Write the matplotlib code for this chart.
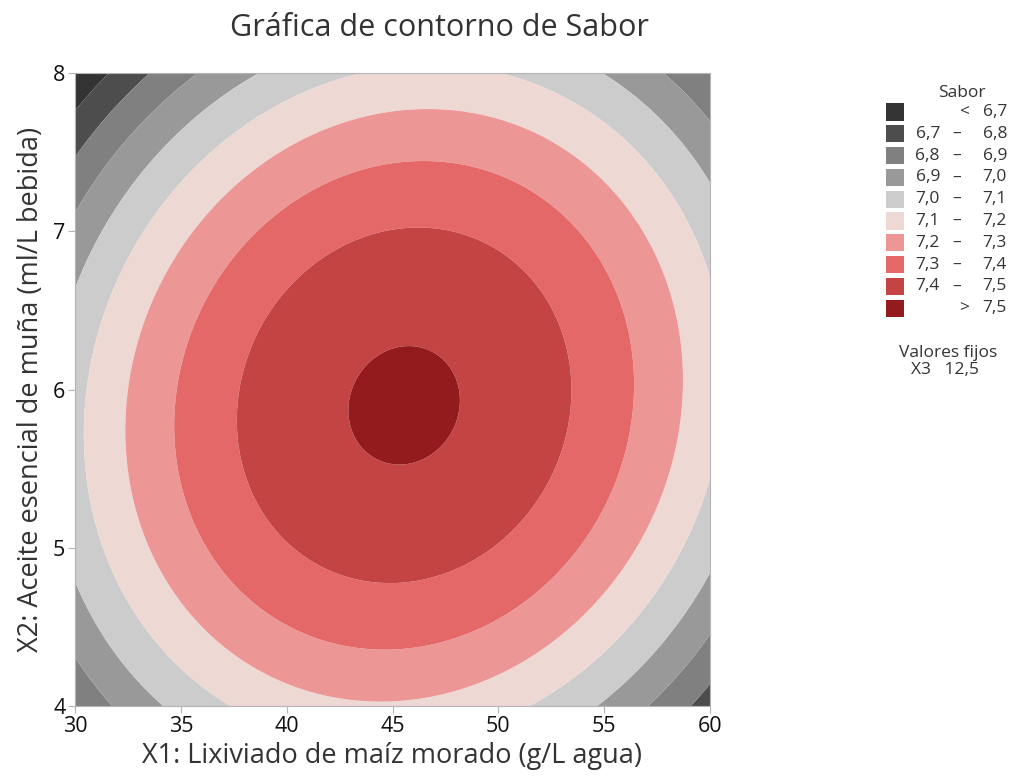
import numpy as np
import matplotlib
matplotlib.use("Agg")
import matplotlib.pyplot as plt
from matplotlib.patches import Rectangle

plt.rcParams["font.family"] = ["Open Sans", "DejaVu Sans"]

# fitted surface: S = s0 - a*dx^2 - b*dy^2 + c*dx*dy
x_center = 45.55
y_center = 5.90
s_max = 7.5125
a_x = 0.001814
b_y = 0.0898
c_xy = 0.00216
x3_fixed = "12,5"

x_range = (30, 60)
y_range = (4, 8)
x_ticks = [30, 35, 40, 45, 50, 55, 60]
y_ticks = [4, 5, 6, 7, 8]

levels = [6.7, 6.8, 6.9, 7.0, 7.1, 7.2, 7.3, 7.4, 7.5]
colors = ["#333333", "#4d4d4d", "#808080", "#999999", "#cccccc",
          "#eed8d4", "#ec9696", "#e46868", "#c44444", "#931b1e"]
legend_labels = [("", "<", "6,7"), ("6,7", "–", "6,8"), ("6,8", "–", "6,9"),
                 ("6,9", "–", "7,0"), ("7,0", "–", "7,1"), ("7,1", "–", "7,2"),
                 ("7,2", "–", "7,3"), ("7,3", "–", "7,4"), ("7,4", "–", "7,5"),
                 ("", ">", "7,5")]

x = np.linspace(x_range[0], x_range[1], 301)
y = np.linspace(y_range[0], y_range[1], 301)
xv, yv = np.meshgrid(x, y)
dx = xv - x_center
dy = yv - y_center
sabor = s_max - a_x * dx ** 2 - b_y * dy ** 2 + c_xy * dx * dy

txt = "#333333"
fig = plt.figure(figsize=(10.11, 7.77), dpi=100)
ax = fig.add_axes([75 / 1011, 71 / 777, 635 / 1011, 633 / 777])
bounds = [-100] + levels + [100]
ax.contourf(xv, yv, sabor, levels=bounds, colors=colors, antialiased=True)
ax.set_xlim(*x_range)
ax.set_ylim(*y_range)
ax.set_xticks(x_ticks)
ax.set_yticks(y_ticks)
for s in ax.spines.values():
    s.set_color("#b4b4b4")
ax.tick_params(direction="out", length=5, color="#b4b4b4", labelcolor="#111111",
               labelsize=15.5, pad=2)
ax.set_xlabel("X1: Lixiviado de maíz morado (g/L agua)", fontsize=19.5, color=txt, labelpad=4)
ax.set_ylabel("X2: Aceite esencial de muña (ml/L bebida)", fontsize=19.5, color=txt, labelpad=6)
fig.text(439 / 1011, 1 - 28 / 777, "Gráfica de contorno de Sabor", fontsize=22,
         color=txt, ha="center", va="center")

# legend
fs = 12.5
fig.text(962 / 1011, 1 - 93 / 777, "Sabor", fontsize=fs, color=txt, ha="center", va="center")
for i, (col, (lo, sep, hi)) in enumerate(zip(colors, legend_labels)):
    yc = 112 + i * 21.8
    fig.patches.append(Rectangle((886 / 1011, 1 - (yc + 8.5) / 777), 18 / 1011, 17 / 777,
                                 transform=fig.transFigure, facecolor=col,
                                 edgecolor="none"))
    yf = 1 - yc / 777
    if lo:
        fig.text(940 / 1011, yf, lo, fontsize=fs, color=txt, ha="right", va="center")
        fig.text(957 / 1011, yf, sep, fontsize=fs, color=txt, ha="center", va="center")
    else:
        fig.text(964 / 1011, yf, sep, fontsize=fs, color=txt, ha="center", va="center")
    fig.text(1007 / 1011, yf, hi, fontsize=fs, color=txt, ha="right", va="center")

fig.text(948 / 1011, 1 - 353 / 777, "Valores fijos", fontsize=fs, color=txt,
         ha="center", va="center")
fig.text(945 / 1011, 1 - 370 / 777, "X3   " + x3_fixed, fontsize=fs, color=txt,
         ha="center", va="center")

fig.savefig("out.png", dpi=100)
